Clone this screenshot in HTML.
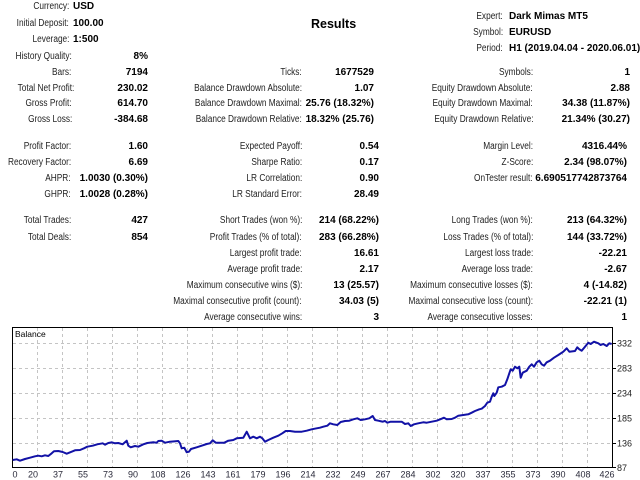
<!DOCTYPE html>
<html>
<head>
<meta charset="utf-8">
<style>
  html,body{margin:0;padding:0;background:#fff;}
  body{width:640px;height:480px;position:relative;overflow:hidden;font-family:"Liberation Sans",Arial,sans-serif;}
  .l{position:absolute;white-space:nowrap;font-size:10px;line-height:12px;height:12px;color:#222;transform:scaleX(.83);transform-origin:100% 50%;}
  .ll{position:absolute;white-space:nowrap;font-size:10px;line-height:12px;height:12px;color:#222;transform:scaleX(.83);transform-origin:0 50%;}
  .v{position:absolute;white-space:nowrap;font-size:10px;line-height:12px;height:12px;color:#000;font-weight:bold;}
  .t{position:absolute;white-space:nowrap;font-size:12.5px;line-height:14px;font-weight:bold;color:#000;}
  svg{position:absolute;left:0;top:0;}
</style>
</head>
<body>
<!-- header left -->
<div class="l" style="right:571px;top:1px">Currency:</div>
<div class="v" style="left:73px;top:1px">USD</div>
<div class="l" style="right:571px;top:17.5px">Initial Deposit:</div>
<div class="v" style="left:73px;top:17.5px">100.00</div>
<div class="l" style="right:571px;top:33.5px">Leverage:</div>
<div class="v" style="left:73px;top:33.5px">1:500</div>

<div class="t" style="left:311px;top:17px">Results</div>

<!-- header right -->
<div class="l" style="right:137px;top:11px">Expert:</div>
<div class="v" style="left:509px;top:11px">Dark Mimas MT5</div>
<div class="l" style="right:137px;top:27px">Symbol:</div>
<div class="v" style="left:509px;top:27px">EURUSD</div>
<div class="l" style="right:137px;top:43px">Period:</div>
<div class="v" style="left:509px;top:43px">H1 (2019.04.04 - 2020.06.01)</div>

<!-- top block -->
<div class="l" style="right:568px;top:51px">History Quality:</div>
<div class="v" style="right:492px;top:51px">8%</div>

<div class="l" style="right:569px;top:66.5px">Bars:</div>
<div class="v" style="right:492px;top:66.5px">7194</div>
<div class="l" style="right:338px;top:66.5px">Ticks:</div>
<div class="v" style="right:266px;top:66.5px">1677529</div>
<div class="l" style="right:107px;top:66.5px">Symbols:</div>
<div class="v" style="right:10px;top:66.5px">1</div>

<div class="l" style="right:566px;top:82.5px">Total Net Profit:</div>
<div class="v" style="right:492px;top:82.5px">230.02</div>
<div class="l" style="right:338px;top:82.5px">Balance Drawdown Absolute:</div>
<div class="v" style="right:266px;top:82.5px">1.07</div>
<div class="l" style="right:107px;top:82.5px">Equity Drawdown Absolute:</div>
<div class="v" style="right:10px;top:82.5px">2.88</div>

<div class="l" style="right:568px;top:98px">Gross Profit:</div>
<div class="v" style="right:492px;top:98px">614.70</div>
<div class="l" style="right:338px;top:98px">Balance Drawdown Maximal:</div>
<div class="v" style="right:266px;top:98px">25.76 (18.32%)</div>
<div class="l" style="right:107px;top:98px">Equity Drawdown Maximal:</div>
<div class="v" style="right:10px;top:98px">34.38 (11.87%)</div>

<div class="l" style="right:568px;top:113.5px">Gross Loss:</div>
<div class="v" style="right:492px;top:113.5px">-384.68</div>
<div class="l" style="right:338px;top:113.5px">Balance Drawdown Relative:</div>
<div class="v" style="right:266px;top:113.5px">18.32% (25.76)</div>
<div class="l" style="right:107px;top:113.5px">Equity Drawdown Relative:</div>
<div class="v" style="right:10px;top:113.5px">21.34% (30.27)</div>

<!-- lower block -->
<div class="l" style="right:569px;top:141px">Profit Factor:</div>
<div class="v" style="right:492px;top:141px">1.60</div>
<div class="l" style="right:338px;top:141px">Expected Payoff:</div>
<div class="v" style="right:261px;top:141px">0.54</div>
<div class="l" style="right:107px;top:141px">Margin Level:</div>
<div class="v" style="right:13px;top:141px">4316.44%</div>

<div class="l" style="right:569px;top:157px">Recovery Factor:</div>
<div class="v" style="right:492px;top:157px">6.69</div>
<div class="l" style="right:338px;top:157px">Sharpe Ratio:</div>
<div class="v" style="right:261px;top:157px">0.17</div>
<div class="l" style="right:107px;top:157px">Z-Score:</div>
<div class="v" style="right:13px;top:157px">2.34 (98.07%)</div>

<div class="l" style="right:569px;top:173px">AHPR:</div>
<div class="v" style="right:492px;top:173px">1.0030 (0.30%)</div>
<div class="l" style="right:338px;top:173px">LR Correlation:</div>
<div class="v" style="right:261px;top:173px">0.90</div>
<div class="l" style="right:107px;top:173px">OnTester result:</div>
<div class="v" style="right:13px;top:173px">6.690517742873764</div>

<div class="l" style="right:569px;top:188.5px">GHPR:</div>
<div class="v" style="right:492px;top:188.5px">1.0028 (0.28%)</div>
<div class="l" style="right:338px;top:188.5px">LR Standard Error:</div>
<div class="v" style="right:261px;top:188.5px">28.49</div>

<div class="l" style="right:569px;top:215px">Total Trades:</div>
<div class="v" style="right:492px;top:215px">427</div>
<div class="l" style="right:338px;top:215px">Short Trades (won %):</div>
<div class="v" style="right:261px;top:215px">214 (68.22%)</div>
<div class="l" style="right:107px;top:215px">Long Trades (won %):</div>
<div class="v" style="right:13px;top:215px">213 (64.32%)</div>

<div class="l" style="right:569px;top:231.5px">Total Deals:</div>
<div class="v" style="right:492px;top:231.5px">854</div>
<div class="l" style="right:338px;top:231.5px">Profit Trades (% of total):</div>
<div class="v" style="right:261px;top:231.5px">283 (66.28%)</div>
<div class="l" style="right:107px;top:231.5px">Loss Trades (% of total):</div>
<div class="v" style="right:13px;top:231.5px">144 (33.72%)</div>

<div class="l" style="right:338px;top:248px">Largest profit trade:</div>
<div class="v" style="right:261px;top:248px">16.61</div>
<div class="l" style="right:107px;top:248px">Largest loss trade:</div>
<div class="v" style="right:13px;top:248px">-22.21</div>

<div class="l" style="right:338px;top:264px">Average profit trade:</div>
<div class="v" style="right:261px;top:264px">2.17</div>
<div class="l" style="right:107px;top:264px">Average loss trade:</div>
<div class="v" style="right:13px;top:264px">-2.67</div>

<div class="l" style="right:338px;top:280px">Maximum consecutive wins ($):</div>
<div class="v" style="right:261px;top:280px">13 (25.57)</div>
<div class="l" style="right:107px;top:280px">Maximum consecutive losses ($):</div>
<div class="v" style="right:13px;top:280px">4 (-14.82)</div>

<div class="l" style="right:338px;top:296px">Maximal consecutive profit (count):</div>
<div class="v" style="right:261px;top:296px">34.03 (5)</div>
<div class="l" style="right:107px;top:296px">Maximal consecutive loss (count):</div>
<div class="v" style="right:13px;top:296px">-22.21 (1)</div>

<div class="l" style="right:338px;top:312px">Average consecutive wins:</div>
<div class="v" style="right:261px;top:312px">3</div>
<div class="l" style="right:107px;top:312px">Average consecutive losses:</div>
<div class="v" style="right:13px;top:312px">1</div>

<!-- chart -->
<svg width="640" height="480" viewBox="0 0 640 480" xmlns="http://www.w3.org/2000/svg">
  <g stroke="#c4c4c4" stroke-width="1" stroke-dasharray="3,3" fill="none">
    <line x1="13" y1="343.5" x2="612" y2="343.5"/>
    <line x1="13" y1="368.5" x2="612" y2="368.5"/>
    <line x1="13" y1="393.5" x2="612" y2="393.5"/>
    <line x1="13" y1="418.5" x2="612" y2="418.5"/>
    <line x1="13" y1="443.5" x2="612" y2="443.5"/>
    <line x1="37.5" y1="328" x2="37.5" y2="467"/>
    <line x1="62.5" y1="328" x2="62.5" y2="467"/>
    <line x1="87.5" y1="328" x2="87.5" y2="467"/>
    <line x1="112.5" y1="328" x2="112.5" y2="467"/>
    <line x1="137.5" y1="328" x2="137.5" y2="467"/>
    <line x1="162.5" y1="328" x2="162.5" y2="467"/>
    <line x1="187.5" y1="328" x2="187.5" y2="467"/>
    <line x1="212.5" y1="328" x2="212.5" y2="467"/>
    <line x1="237.5" y1="328" x2="237.5" y2="467"/>
    <line x1="262.5" y1="328" x2="262.5" y2="467"/>
    <line x1="287.5" y1="328" x2="287.5" y2="467"/>
    <line x1="312.5" y1="328" x2="312.5" y2="467"/>
    <line x1="337.5" y1="328" x2="337.5" y2="467"/>
    <line x1="362.5" y1="328" x2="362.5" y2="467"/>
    <line x1="387.5" y1="328" x2="387.5" y2="467"/>
    <line x1="412.5" y1="328" x2="412.5" y2="467"/>
    <line x1="437.5" y1="328" x2="437.5" y2="467"/>
    <line x1="462.5" y1="328" x2="462.5" y2="467"/>
    <line x1="487.5" y1="328" x2="487.5" y2="467"/>
    <line x1="512.5" y1="328" x2="512.5" y2="467"/>
    <line x1="537.5" y1="328" x2="537.5" y2="467"/>
    <line x1="562.5" y1="328" x2="562.5" y2="467"/>
    <line x1="587.5" y1="328" x2="587.5" y2="467"/>
  </g>
  <rect x="12.5" y="327.5" width="600" height="140" fill="none" stroke="#000" stroke-width="1"/>
  <g stroke="#000" stroke-width="1">
    <line x1="613" y1="343.5" x2="616" y2="343.5"/>
    <line x1="613" y1="368.5" x2="616" y2="368.5"/>
    <line x1="613" y1="393.5" x2="616" y2="393.5"/>
    <line x1="613" y1="418.5" x2="616" y2="418.5"/>
    <line x1="613" y1="443.5" x2="616" y2="443.5"/>
    <line x1="613" y1="467.5" x2="616" y2="467.5"/>
  </g>
  <text x="15" y="337" font-family="Liberation Sans, Arial, sans-serif" font-size="8.5" fill="#000">Balance</text>

  <polyline fill="none" stroke="#1212a6" stroke-width="2" stroke-linejoin="round" points="12.7,460 16.7,459.3 20,460.7 25,459 30,457.7 35,456.3 38.3,455.7 41.7,456.3 45,455.3 48.3,456 51.7,453.3 54,451.3 58.3,451 62.7,452 66.7,453.7 71.7,451.7 75,450.3 80,450 84,448.3 87.3,446.7 92.7,445.7 97.3,444.3 102.7,443.3 105,444.7 108.3,443 111.7,442.3 115,443.3 118.3,443 122.7,444.3 126.7,440.7 128.3,445.7 130.7,447.3 135,446 138.3,446.7 143.3,444.3 147.3,443 153.3,442.3 156.7,442.7 158.3,441 161.7,440.7 165,442.7 170,441.7 178.3,441 180,443.3 181.7,448.3 184.3,447.7 186.7,452.3 189,451.7 191,449 196.7,447.3 201.7,445.7 206.7,444 210,443.3 212.7,440.3 215.7,442.7 220,442.7 224.3,442.7 228.3,440.7 233.3,440 236.7,438.3 243.3,437.7 246.7,431.7 250,438.3 253.3,436.7 256.7,438.3 260,436.7 262.3,438.3 265,441.7 268.3,440 273.3,437.7 278.3,435.7 282.3,433.3 285.7,431 290,431 295,431.7 301.7,431.7 306.7,430.7 311.7,429.3 316.7,428.3 320,427.7 323.3,426.7 327.3,425.7 330,423.3 333.3,424.3 337.3,425 340.7,422 345,421 349.3,420.7 353.3,419.3 357.3,418.3 360.7,420 365,419.3 369.3,418.3 372.7,416 375,420 378.3,420.7 382.7,421.7 385,421 387.3,422.7 390.7,421.7 396,421.7 401.7,421.7 405,424 408.3,423.3 410.7,426 414,424.3 418.3,423.3 423.3,422.3 426.7,422.7 431.7,421.7 436.7,420.7 441.7,418.7 444,417.7 446.7,419.3 451.7,419 455,417.7 458.3,415.7 463.3,415 468.3,414.3 471.7,412.7 475,411 479.3,409.3 481.7,408.7 485,406 487.3,402.7 490,401.7 491.7,396.7 493.3,393.3 494.3,396 496.7,392.7 498.3,387.3 501.7,386.7 505,385 507.3,379.3 509.3,373.3 510.7,369.3 512.7,370.7 515,366.7 517.3,368.3 519.3,366.7 520.7,377.7 522.7,372.7 526.7,370.7 529.3,366.7 531.7,364.3 534,366.7 536.7,362.3 539.3,360.7 541.7,364.3 544,365.7 546.7,362.3 550,360.7 554,357.7 558.3,355 563.3,351.7 566.7,348.3 569.3,351.7 575,351 577.3,347.3 579.3,349.3 581.7,350.7 585,346.7 588.3,342.7 590.7,344 594,341.7 598.3,343.3 600.7,345 603.3,344 606.7,346 609.3,343.3 611.7,344"/>

  <g font-family="Liberation Sans, Arial, sans-serif" font-size="9" fill="#222">
    <text x="617" y="346.5">332</text>
    <text x="617" y="371.5">283</text>
    <text x="617" y="396.5">234</text>
    <text x="617" y="421.5">185</text>
    <text x="617" y="446.5">136</text>
    <text x="617" y="471">87</text>
  </g>
  <g font-family="Liberation Sans, Arial, sans-serif" font-size="9" fill="#2a2a3a" text-anchor="middle">
    <text x="15" y="477.5">0</text>
    <text x="33" y="477.5">20</text>
    <text x="58" y="477.5">37</text>
    <text x="83" y="477.5">55</text>
    <text x="108" y="477.5">73</text>
    <text x="133" y="477.5">90</text>
    <text x="158" y="477.5">108</text>
    <text x="183" y="477.5">126</text>
    <text x="208" y="477.5">143</text>
    <text x="233" y="477.5">161</text>
    <text x="258" y="477.5">179</text>
    <text x="283" y="477.5">196</text>
    <text x="308" y="477.5">214</text>
    <text x="333" y="477.5">232</text>
    <text x="358" y="477.5">249</text>
    <text x="383" y="477.5">267</text>
    <text x="408" y="477.5">284</text>
    <text x="433" y="477.5">302</text>
    <text x="458" y="477.5">320</text>
    <text x="483" y="477.5">337</text>
    <text x="508" y="477.5">355</text>
    <text x="533" y="477.5">373</text>
    <text x="558" y="477.5">390</text>
    <text x="583" y="477.5">408</text>
    <text x="607" y="477.5">426</text>
  </g>
</svg>
</body>
</html>
